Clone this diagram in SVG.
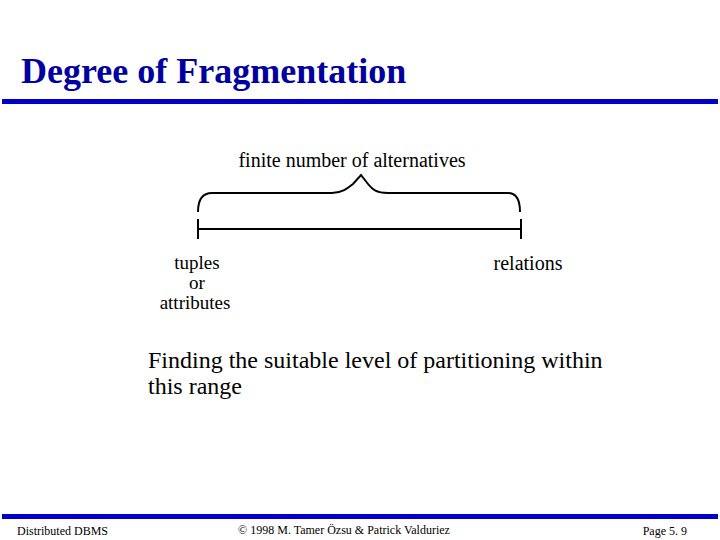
<svg xmlns="http://www.w3.org/2000/svg" width="720" height="540" viewBox="0 0 720 540">
<style>
.t{font-family:"Liberation Serif","Times New Roman",serif;fill:#000}
.ln{fill:none;stroke:#000;stroke-width:2}
</style>
<rect width="720" height="540" fill="#fff"/>
<g id="title"><text x="21" y="83" font-size="36" font-weight="bold" font-family="Liberation Serif, serif" fill="#0000a0">Degree of Fragmentation</text>
<rect x="2" y="99" width="716" height="5" fill="#0000c8"/></g>
<g id="brace"><text class="t" x="352" y="167" font-size="20" text-anchor="middle">finite number of alternatives</text>
<path class="ln" d="M198,212 C198,200 202,193 212,193 L332,193 C342,193 348,188 353,184 L361,175 L368,184 C372,189 376,193 388,193 L508,193 C516,193 520,200 520,212"/></g>
<g id="connectors"><path class="ln" d="M198,229 H521 M198,219 V239 M521,219 V239"/></g>
<g id="left"><text class="t" font-size="19" text-anchor="middle"><tspan x="197" y="269">tuples</tspan><tspan x="197" y="289">or</tspan><tspan x="195" y="309">attributes</tspan></text></g>
<g id="right"><text class="t" x="528" y="270" font-size="20" text-anchor="middle">relations</text></g>
<g id="note"><text class="t" font-size="24"><tspan x="148" y="368">Finding the suitable level of partitioning within</tspan><tspan x="148" y="394">this range</tspan></text></g>
<g id="footer"><rect x="2" y="514" width="716" height="5" fill="#0000c8"/>
<text class="t" x="17" y="535" font-size="12">Distributed DBMS</text>
<text class="t" x="344" y="534" font-size="12" text-anchor="middle">© 1998 M. Tamer Özsu &amp; Patrick Valduriez</text>
<text class="t" x="687" y="535" font-size="12" text-anchor="end">Page 5. 9</text></g>
</svg>
